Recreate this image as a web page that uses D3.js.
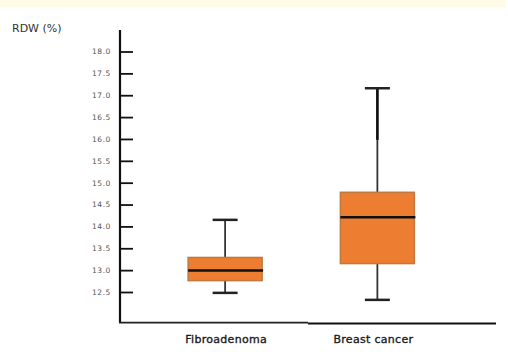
<!DOCTYPE html>
<html>
<head>
<meta charset="utf-8">
<script src="https://cdn.jsdelivr.net/npm/d3@7"></script>
<style>
  html, body { margin: 0; padding: 0; background: #ffffff; }
  svg { display: block; }
</style>
</head>
<body>
<svg id="chart" width="508" height="352"></svg>
<script>
// ---- data ----
const categories = ["Fibroadenoma", "Breast cancer"];
const whiskerHigh = [14.15, 17.16];
const q3 = [13.29, 14.78];
const median = [12.99, 14.21];
const q1 = [12.76, 13.15];
const whiskerLow = [12.48, 12.32];
const upperThickTo = [null, 15.98];
const tickValues = [12.5, 13.0, 13.5, 14.0, 14.5, 15.0, 15.5, 16.0, 16.5, 17.0, 17.5, 18.0];
const axisTitle = "RDW (%)";
const axisMin = 11.8, axisMax = 18.49;

const svg = d3.select("#chart");

// top pale band
svg.append("rect").attr("x", 0).attr("y", 0).attr("width", 506).attr("height", 7).attr("fill", "#fffbe6");

const y = d3.scaleLinear().domain([12.5, 18.0]).range([292, 51.5]);
const x = d3.scaleBand().domain(categories).range([149, 453.5]).padding(0);
const cx = c => x(c) + x.bandwidth() / 2;
const boxW = 74, capW = 25;

// y axis
const yAxis = d3.axisLeft(y).tickValues(tickValues).tickSizeInner(-13).tickSizeOuter(0).tickPadding(9)
  .tickFormat(d3.format(".1f"));
const gy = svg.append("g").attr("transform", "translate(120,0)").call(yAxis);
gy.select(".domain").remove();
gy.selectAll(".tick line").attr("stroke", "#111").attr("stroke-width", 1.8);
gy.selectAll(".tick text").attr("fill", "#555").attr("font-family", "DejaVu Sans, sans-serif")
  .attr("font-size", 7.5).attr("letter-spacing", 0.6);
svg.append("line").attr("x1", 120).attr("x2", 120).attr("y1", y(axisMax)).attr("y2", y(axisMin))
  .attr("stroke", "#111").attr("stroke-width", 2.2);

// x axis baseline (two segments as in reference)
svg.append("line").attr("x1", 119).attr("x2", 308).attr("y1", y(axisMin)).attr("y2", y(axisMin))
  .attr("stroke", "#222").attr("stroke-width", 1.6);
svg.append("line").attr("x1", 308).attr("x2", 496).attr("y1", y(axisMin) + 1).attr("y2", y(axisMin) + 1)
  .attr("stroke", "#111").attr("stroke-width", 2);

// axis title
svg.append("text").attr("x", 12).attr("y", 32).text(axisTitle)
  .attr("font-family", "DejaVu Sans, sans-serif").attr("font-size", 11).attr("fill", "#333");

// category labels
const xAxis = d3.axisBottom(x).tickSize(0).tickPadding(13);
const gx = svg.append("g").attr("transform", `translate(0,${y(axisMin)})`).call(xAxis);
gx.select(".domain").remove();
gx.selectAll(".tick text").attr("fill", "#1a1a1a").attr("font-family", "DejaVu Sans, sans-serif")
  .attr("font-size", 11).attr("stroke", "#1a1a1a").attr("stroke-width", 0.35).attr("letter-spacing", 0.3)
  .attr("dx", (d, i) => i === 1 ? -4 : 1);

// boxes
const data = categories.map((c, i) => ({
  c, hi: whiskerHigh[i], q3: q3[i], med: median[i], q1: q1[i], lo: whiskerLow[i], thick: upperThickTo[i]
}));

const g = svg.append("g");
data.forEach(d => {
  const xc = cx(d.c);
  // upper whisker
  g.append("line").attr("x1", xc).attr("x2", xc).attr("y1", y(d.hi)).attr("y2", y(d.q3))
    .attr("stroke", "#333").attr("stroke-width", 1.8);
  if (d.thick !== null) {
    g.append("line").attr("x1", xc).attr("x2", xc).attr("y1", y(d.hi)).attr("y2", y(d.thick))
      .attr("stroke", "#111").attr("stroke-width", 2.6);
  }
  // lower whisker
  g.append("line").attr("x1", xc).attr("x2", xc).attr("y1", y(d.q1)).attr("y2", y(d.lo))
    .attr("stroke", "#333").attr("stroke-width", 1.8);
  // caps
  [d.hi, d.lo].forEach(v => {
    g.append("line").attr("x1", xc - capW / 2).attr("x2", xc + capW / 2).attr("y1", y(v)).attr("y2", y(v))
      .attr("stroke", "#222").attr("stroke-width", 2.5);
  });
  // box
  g.append("rect").attr("x", xc - boxW / 2).attr("width", boxW)
    .attr("y", y(d.q3)).attr("height", y(d.q1) - y(d.q3))
    .attr("fill", "#ed7d31").attr("stroke", "#c0783e").attr("stroke-width", 1.5);
  // median
  g.append("line").attr("x1", xc - boxW / 2).attr("x2", xc + boxW / 2 + 1).attr("y1", y(d.med)).attr("y2", y(d.med))
    .attr("stroke", "#111").attr("stroke-width", 2.5);
});
</script>
</body>
</html>
